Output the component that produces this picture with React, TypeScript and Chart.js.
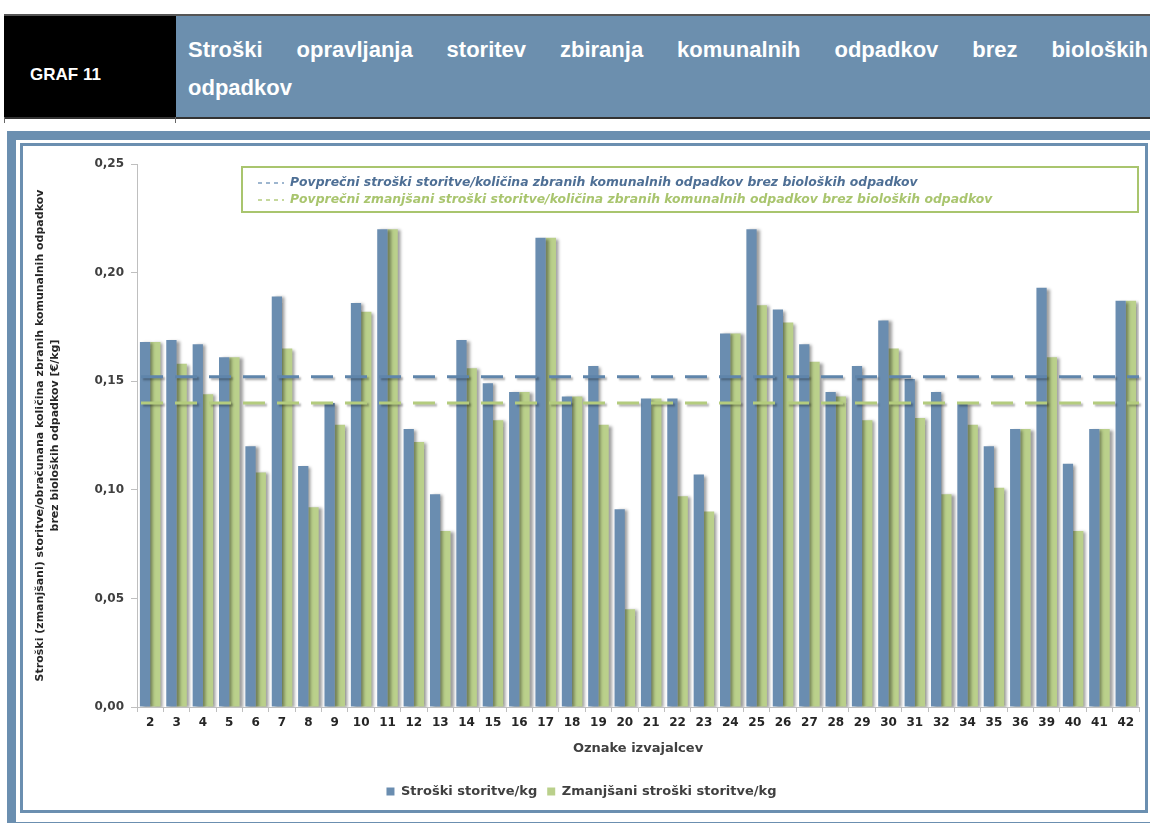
import React, { useEffect, useRef } from "react";
import { Chart, registerables } from "chart.js";

Chart.register(...registerables);

const categories = ["2", "3", "4", "5", "6", "7", "8", "9", "10", "11", "12", "13", "14", "15", "16", "17", "18", "19", "20", "21", "22", "23", "24", "25", "26", "27", "28", "29", "30", "31", "32", "34", "35", "36", "39", "40", "41", "42"];
const costPerKg = [0.168, 0.169, 0.167, 0.161, 0.120, 0.189, 0.111, 0.140, 0.186, 0.220, 0.128, 0.098, 0.169, 0.149, 0.145, 0.216, 0.143, 0.157, 0.091, 0.142, 0.142, 0.107, 0.172, 0.220, 0.183, 0.167, 0.145, 0.157, 0.178, 0.151, 0.145, 0.140, 0.120, 0.128, 0.193, 0.112, 0.128, 0.187];
const reducedCostPerKg = [0.168, 0.158, 0.144, 0.161, 0.108, 0.165, 0.092, 0.130, 0.182, 0.220, 0.122, 0.081, 0.156, 0.132, 0.145, 0.216, 0.143, 0.130, 0.045, 0.142, 0.097, 0.090, 0.172, 0.185, 0.177, 0.159, 0.143, 0.132, 0.165, 0.133, 0.098, 0.130, 0.101, 0.128, 0.161, 0.081, 0.128, 0.187];
const avgCost = 0.152;
const avgReducedCost = 0.140;
const yMin = 0;
const yMax = 0.25;
const yStep = 0.05;

const seriesNames = ["Stroški storitve/kg", "Zmanjšani stroški storitve/kg"];
const avgNames = [
  "Povprečni stroški storitve/količina zbranih komunalnih odpadkov brez bioloških odpadkov",
  "Povprečni zmanjšani stroški storitve/količina zbranih komunalnih odpadkov brez bioloških odpadkov",
];
const yTitle = [
  "Stroški (zmanjšani) storitve/obračunana količina zbranih komunalnih odpadkov",
  "brez bioloških odpadkov [€/kg]",
];
const xTitle = "Oznake izvajalcev";
const headerLabel = "GRAF 11";
const headerTitle1 = "Stroški opravljanja storitev zbiranja komunalnih odpadkov brez bioloških";
const headerTitle2 = "odpadkov";

const BLUE = "#6a8db0";
const GREEN = "#bad08b";
const AVG_BLUE = "#5f85ab";
const AVG_GREEN = "#b4cc7e";
const FRAME_BLUE = "#6b8fb0";
const FONT = "'DejaVu Sans', 'Liberation Sans', sans-serif";
const HFONT = "'Liberation Sans', 'DejaVu Sans', sans-serif";

const shadowPlugin = {
  id: "barShadow",
  beforeDatasetDraw(chart: any) {
    const ctx = chart.ctx;
    ctx.save();
    ctx.shadowColor = "rgba(0,0,0,0.38)";
    ctx.shadowOffsetX = 3;
    ctx.shadowOffsetY = 1;
    ctx.shadowBlur = 3;
  },
  afterDatasetDraw(chart: any) {
    chart.ctx.restore();
  },
};

const avgPlugin = {
  id: "avgLines",
  afterDatasetsDraw(chart: any) {
    const { ctx, chartArea, scales } = chart;
    const y = scales.y;
    const lines = [
      { v: avgCost, c: AVG_BLUE },
      { v: avgReducedCost, c: AVG_GREEN },
    ];
    ctx.save();
    ctx.lineWidth = 3;
    ctx.setLineDash([22, 12]);
    ctx.shadowColor = "rgba(0,0,0,0.3)";
    ctx.shadowOffsetX = 2;
    ctx.shadowOffsetY = 2;
    ctx.shadowBlur = 2;
    for (const l of lines) {
      const py = y.getPixelForValue(l.v);
      ctx.strokeStyle = l.c;
      ctx.beginPath();
      ctx.moveTo(chartArea.left + 4, py);
      ctx.lineTo(chartArea.right, py);
      ctx.stroke();
    }
    ctx.restore();

    // legend box for the average lines
    const bx = chartArea.left + 105;
    const by = chartArea.top + 3;
    const bw = chartArea.right - 1 - bx;
    const bh = 45;
    ctx.save();
    ctx.fillStyle = "#ffffff";
    ctx.fillRect(bx, by, bw, bh);
    ctx.strokeStyle = "#a9c56e";
    ctx.lineWidth = 2;
    ctx.strokeRect(bx, by, bw, bh);
    const rows = [
      { t: avgNames[0], c: "#4e6f95", d: "#7f9fc0", dy: 16 },
      { t: avgNames[1], c: "#a9c56e", d: "#b4cc7e", dy: 33 },
    ];
    ctx.font = `italic bold 12.4px ${FONT}`;
    ctx.textBaseline = "middle";
    for (const r of rows) {
      ctx.strokeStyle = r.d;
      ctx.lineWidth = 1.5;
      ctx.setLineDash([4, 4]);
      ctx.beginPath();
      ctx.moveTo(bx + 16, by + r.dy);
      ctx.lineTo(bx + 42, by + r.dy);
      ctx.stroke();
      ctx.setLineDash([]);
      ctx.fillStyle = r.c;
      ctx.fillText(r.t, bx + 48, by + r.dy);
    }
    ctx.restore();
  },
};

function ChartView() {
  const ref = useRef<HTMLCanvasElement | null>(null);
  useEffect(() => {
    if (!ref.current) return;
    const chart = new Chart(ref.current, {
      type: "bar",
      data: {
        labels: categories,
        datasets: [
          { label: seriesNames[0], data: costPerKg, backgroundColor: BLUE, borderWidth: 0 },
          { label: seriesNames[1], data: reducedCostPerKg, backgroundColor: GREEN, borderWidth: 0 },
        ],
      },
      options: {
        animation: false,
        responsive: false,
        maintainAspectRatio: false,
        layout: { padding: { top: 17, right: 5, bottom: 1, left: 0 } },
        datasets: { bar: { categoryPercentage: 0.78, barPercentage: 1 } },
        plugins: {
          tooltip: { enabled: false },
          legend: {
            position: "bottom",
            labels: {
              boxWidth: 8,
              boxHeight: 8,
              padding: 10,
              color: "#404040",
              font: { family: FONT, size: 13, weight: "bold" },
            },
          },
        },
        scales: {
          x: {
            afterFit: (s: any) => { s.height = 68; },
            grid: { offset: true, drawOnChartArea: false, tickLength: 5, color: "#bfbfbf" },
            border: { color: "#bfbfbf" },
            ticks: {
              color: "#262626",
              padding: 4,
              maxRotation: 0,
              autoSkip: false,
              font: { family: FONT, size: 12, weight: "bold" },
            },
            title: {
              display: true,
              text: xTitle,
              color: "#404040",
              padding: { top: 4, bottom: 19 },
              font: { family: FONT, size: 13, weight: "bold" },
            },
          },
          y: {
            min: yMin,
            max: yMax,
            afterFit: (s: any) => { s.width = 113; },
            grid: { drawOnChartArea: false, tickLength: 6, color: "#bfbfbf" },
            border: { color: "#bfbfbf" },
            ticks: {
              stepSize: yStep,
              padding: 7,
              color: "#404040",
              font: { family: FONT, size: 12, weight: "bold" },
              callback: (v: any) => Number(v).toFixed(2).replace(".", ","),
            },
            title: {
              display: true,
              text: yTitle,
              color: "#262626",
              padding: { top: 9, bottom: 0 },
              font: { family: FONT, size: 11, weight: "bold", lineHeight: 1.35 },
            },
          },
        },
      },
      plugins: [shadowPlugin, avgPlugin],
    });
    return () => chart.destroy();
  }, []);
  return <canvas ref={ref} width={1120} height={662} style={{ position: "absolute", left: 24, top: 147, width: 1120, height: 662 }} />;
}

export default function App() {
  return (
    <div style={{ position: "absolute", left: 0, top: 0, width: 1150, height: 823, overflow: "hidden", background: "#ffffff", fontFamily: FONT }}>
      {/* header */}
      <div style={{ position: "absolute", left: 4, top: 14, width: 1150, height: 2, background: "#555" }} />
      <div style={{ position: "absolute", left: 4, top: 16, width: 172, height: 101, background: "#000" }} />
      <div style={{ position: "absolute", left: 176, top: 16, width: 980, height: 101, background: "#6c8fae" }} />
      <div style={{ position: "absolute", left: 4, top: 117, width: 1150, height: 2, background: "#333" }} />
      <div style={{ position: "absolute", left: 4, top: 117, width: 1, height: 6, background: "#666" }} />
      <div style={{ position: "absolute", left: 175, top: 117, width: 1, height: 6, background: "#666" }} />
      <div style={{ position: "absolute", left: 30, top: 65, color: "#fff", fontFamily: HFONT, fontWeight: "bold", fontSize: 17, lineHeight: "20px" }}>{headerLabel}</div>
      <div style={{ position: "absolute", left: 188, top: 37, width: 960, color: "#fff", fontFamily: HFONT, fontWeight: "bold", fontSize: 22, lineHeight: "26px", textAlign: "justify", textAlignLast: "justify" } as any}>{headerTitle1}</div>
      <div style={{ position: "absolute", left: 188, top: 75, color: "#fff", fontFamily: HFONT, fontWeight: "bold", fontSize: 22, lineHeight: "26px" }}>{headerTitle2}</div>
      {/* frame */}
      <div style={{ position: "absolute", left: 7, top: 131, width: 1160, height: 700, boxSizing: "border-box", border: `9px solid ${FRAME_BLUE}` }} />
      <div style={{ position: "absolute", left: 20, top: 143, width: 1128, height: 670, boxSizing: "border-box", border: `3px solid ${FRAME_BLUE}` }} />
      <ChartView />
    </div>
  );
}
